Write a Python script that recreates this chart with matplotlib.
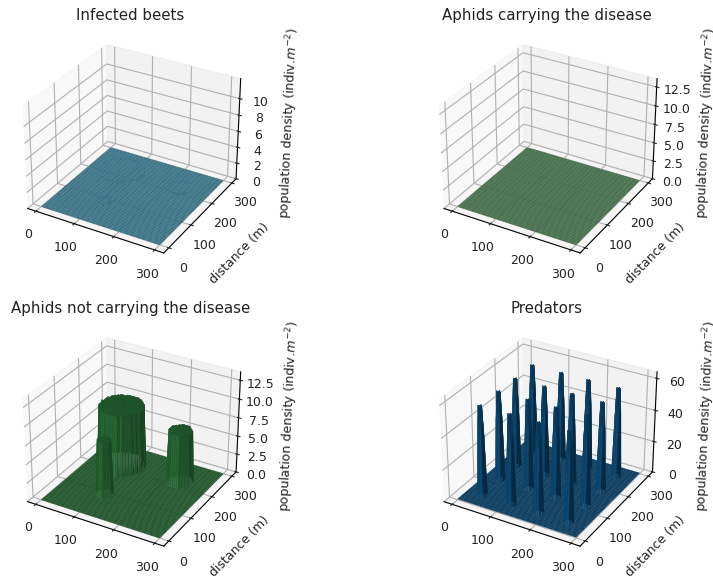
import numpy as np
import matplotlib
matplotlib.use("Agg")
import matplotlib.pyplot as plt

# -------------------------------------------------
# Data
# -------------------------------------------------

titles = ["Infected beets", "Aphids carrying the disease",
          "Aphids not carrying the disease", "Predators"]
colors = ["#4a8a9e", "#588a60", "#2c7039", "#0d5080"]
edge_colors = ["#3f7f93", "#4a7650", "#1d5429", "#0a3a5a"]
z_limits = [12.4, 13.6, 13.6, 64]
z_ticks = [[0, 2, 4, 6, 8, 10],
           [0, 2.5, 5, 7.5, 10, 12.5],
           [0, 2.5, 5, 7.5, 10, 12.5],
           [0, 20, 40, 60]]
xy_ticks = [0, 100, 200, 300]

# Aphid patches (centre x, centre y, radius, height)
patch_x = [78, 110, 230]
patch_y = [220, 90, 220]
patch_r = [53, 17, 28]
patch_h = [8.2, 7.4, 7.1]

# values inside the same patches on the other maps
beet_bump = [0.2, 0.2, 0.2]
carrier_bump = [0.03, 0.03, 0.03]

# Predator peaks
peak_x = [40, 115, 185, 260]
peak_y = [40, 115, 185, 260]
peak_h = 57
peak_shoulder = 40
floor_predators = 0.5

grid = np.arange(0, 301, 5)
X, Y = np.meshgrid(grid, grid)


def patches_surface(heights):
    Z = np.zeros_like(X, dtype=float)
    for px, py, pr, ph in zip(patch_x, patch_y, patch_r, heights):
        Z[(X - px) ** 2 + (Y - py) ** 2 <= pr ** 2] = ph
    return Z


def peaks_surface():
    Z = np.full_like(X, floor_predators, dtype=float)
    for px in peak_x:
        for py in peak_y:
            # shoulder on the 3x3 block, then full height on the cross
            Z[(np.abs(X - px) <= 5) & (np.abs(Y - py) <= 5)] = peak_shoulder
            Z[(X - px) ** 2 + (Y - py) ** 2 <= 25] = peak_h
    return Z


surfaces = [patches_surface(beet_bump), patches_surface(carrier_bump),
            patches_surface(patch_h), peaks_surface()]

# -------------------------------------------------
# Figure
# -------------------------------------------------

plt.rcParams["font.size"] = 9
plt.rcParams["text.color"] = "#222222"
plt.rcParams["axes.labelcolor"] = "#222222"
plt.rcParams["xtick.color"] = "#222222"
plt.rcParams["ytick.color"] = "#222222"

fig = plt.figure(figsize=(7.13, 5.8), dpi=100)

positions = [[0.013, 0.534, 0.34, 0.425],
             [0.597, 0.534, 0.34, 0.425],
             [0.013, 0.0285, 0.34, 0.425],
             [0.597, 0.0285, 0.34, 0.425]]

for i in range(4):
    ax = fig.add_axes(positions[i], projection="3d")
    ax.plot_surface(X, Y, surfaces[i], color=colors[i], rstride=1, cstride=1,
                    linewidth=0.2, edgecolor=edge_colors[i], shade=True)
    ax.set_title(titles[i], fontsize=10.8, pad=4)
    ax.set_xticks(xy_ticks)
    ax.set_yticks(xy_ticks)
    ax.set_zlim(0, z_limits[i])
    ax.set_zticks(z_ticks[i])
    ax.set_ylabel("distance (m)")
    ax.set_zlabel(r"population density (indiv.$m^{-2}$)", labelpad=2)
    ax.tick_params(pad=1)

fig.savefig("out.png", dpi=100)
